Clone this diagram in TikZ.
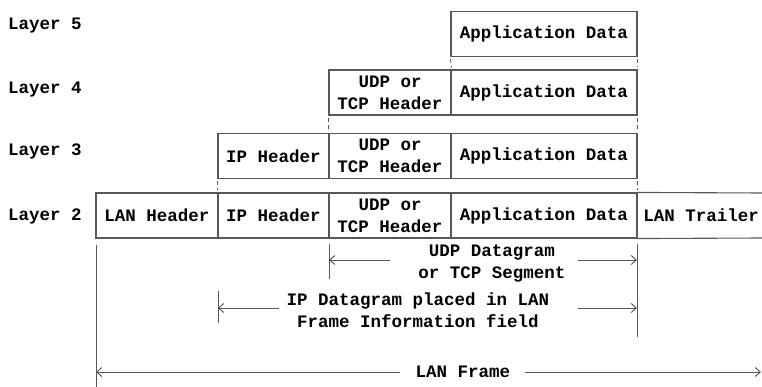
\documentclass[tikz,border=0pt]{standalone}
\usepackage{fontspec}
\setmainfont{Liberation Mono}
\usetikzlibrary{arrows.meta}
\definecolor{boxgray}{RGB}{88,88,88}
\begin{document}
\begin{tikzpicture}[x=1pt,y=-1pt,
  every node/.style={font=\bfseries\fontsize{17.5}{22}\selectfont, text=black},
  field/.style={draw=boxgray, line width=1.1pt, minimum height=45pt, inner sep=0pt, align=center},
  layerlbl/.style={anchor=west, inner sep=0pt},
  gapline/.style={draw=boxgray, line width=0.8pt, dash pattern=on 4pt off 3pt},
  dimline/.style={draw=boxgray, line width=1pt},
  dimarrow/.style={draw=boxgray, line width=1pt, -{Straight Barb[length=5pt,width=9pt]}},
  dimtext/.style={align=center, inner sep=0pt},
]
\useasboundingbox[fill=white] (0,0) rectangle (762,387);

% layer labels
\node[layerlbl] (l5) at (8,26)  {Layer 5};
\node[layerlbl] (l4) at (8,90)  {Layer 4};
\node[layerlbl] (l3) at (8,151) {Layer 3};
\node[layerlbl] (l2) at (8,216) {Layer 2};

% layer 5
\node[field, minimum width=186pt] (app5) at (544,34) {Application Data};

% layer 4
\node[field, minimum width=122pt] (udp4) at (390,92.5) {UDP or\\TCP Header};
\node[field, minimum width=186pt] (app4) at (544,92.5) {Application Data};

% layer 3
\node[field, minimum width=111pt] (ip3)  at (273.5,156) {IP Header};
\node[field, minimum width=122pt] (udp3) at (390,156) {UDP or\\TCP Header};
\node[field, minimum width=186pt] (app3) at (544,156) {Application Data};

% layer 2
\node[field, minimum width=122pt] (lan2) at (157,215.5) {LAN Header};
\node[field, minimum width=111pt] (ip2)  at (273.5,215.5) {IP Header};
\node[field, minimum width=122pt] (udp2) at (390,215.5) {UDP or\\TCP Header};
\node[field, minimum width=186pt] (app2) at (544,215.5) {Application Data};
\node[inner sep=0pt] (trl2) at (701,215.5) {LAN Trailer};
\coordinate (trlNE) at (762,193);
\coordinate (trlSE) at (762,238);
\draw[draw=boxgray, line width=1.1pt] (app2.north east) -- (trlNE);
\draw[draw=boxgray, line width=1.1pt] (app2.south east) -- (trlSE);

% alignment ticks between layers
\draw[gapline] ([yshift=-2pt]app5.south west) -- ([yshift=2pt]udp4.north east);
\draw[gapline] ([yshift=-2pt]app5.south east) -- ([yshift=2pt]app4.north east);
\draw[gapline] ([yshift=-2pt]app4.south east) -- ([yshift=2pt]app3.north east);
\draw[gapline] ([yshift=-2pt]udp4.south west) -- ([yshift=2pt]udp3.north west);
\draw[gapline] ([yshift=-2pt]app3.south east) -- ([yshift=2pt]app2.north east);
\draw[gapline] ([yshift=-2pt]ip3.south west) -- ([yshift=2pt]ip2.north west);

% extent markers
\coordinate (mA1) at (96,245);  \coordinate (mA2) at (96,387);
\coordinate (mB1) at (218,291); \coordinate (mB2) at (218,323);
\coordinate (mC1) at (329,244); \coordinate (mC2) at (329,279);
\coordinate (mD1) at (637,244); \coordinate (mD2) at (637,337);
\draw[dimline] (mA1) -- (mA2);
\draw[dimline] (mB1) -- (mB2);
\draw[dimline] (mC1) -- (mC2);
\draw[dimline] (mD1) -- (mD2);

% UDP datagram / TCP segment
\node[dimtext] (seg) at (492,264) {UDP Datagram\\or TCP Segment};
\coordinate (segL) at (390,260); \coordinate (segLt) at (329,260);
\coordinate (segR) at (578,260); \coordinate (segRt) at (637,260);
\draw[dimarrow] (segL) -- (segLt);
\draw[dimarrow] (segR) -- (segRt);

% IP datagram
\node[dimtext] (ipd) at (418,310) {IP Datagram placed in LAN\\Frame Information field};
\coordinate (ipdL) at (279,308); \coordinate (ipdLt) at (218,308);
\coordinate (ipdR) at (578,308); \coordinate (ipdRt) at (637,308);
\draw[dimarrow] (ipdL) -- (ipdLt);
\draw[dimarrow] (ipdR) -- (ipdRt);

% LAN frame
\node[dimtext] (frm) at (463,372) {LAN Frame};
\coordinate (frmL) at (400,372); \coordinate (frmLt) at (96,372);
\coordinate (frmR) at (525,372); \coordinate (frmRt) at (761,372);
\draw[dimarrow] (frmL) -- (frmLt);
\draw[dimarrow] (frmR) -- (frmRt);
\end{tikzpicture}
\end{document}
